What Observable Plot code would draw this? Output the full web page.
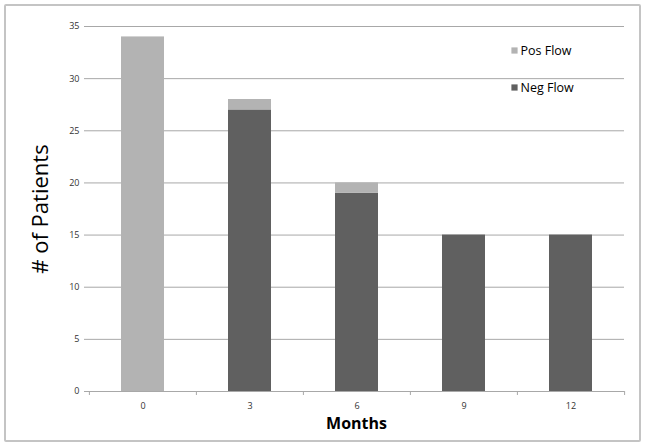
<!DOCTYPE html>
<html>
<head>
<meta charset="utf-8">
<script src="https://cdn.jsdelivr.net/npm/d3@7"></script>
<script src="https://cdn.jsdelivr.net/npm/@observablehq/plot@0.6"></script>
<style>
  body { margin: 0; background: #fff; }
  #wrap { position: relative; width: 645px; height: 447px; }
  #border { position: absolute; left: 4px; top: 4px; width: 633px; height: 434px; border: 2px solid #c4c4c4; border-radius: 2px; pointer-events: none; }
  svg { font-family: "Open Sans", "Liberation Sans", sans-serif; }
</style>
</head>
<body>
<div id="wrap"><div id="border"></div></div>
<script>
const months = ["0", "3", "6", "9", "12"];
const negFlow = [0, 27, 19, 15, 15];
const posFlow = [34, 1, 1, 0, 0];
const series = ["Neg Flow", "Pos Flow"];
const colors = ["#606060", "#b3b3b3"];
const yTicks = [0, 5, 10, 15, 20, 25, 30, 35];

const data = [];
months.forEach((m, i) => {
  data.push({month: m, series: "Neg Flow", value: negFlow[i]});
  data.push({month: m, series: "Pos Flow", value: posFlow[i]});
});

const W = 645, ML = 88, MR = 21;
const step = (W - ML - MR) / months.length;

const chart = Plot.plot({
  width: W,
  height: 447,
  marginLeft: ML,
  marginRight: MR,
  marginTop: 26,
  marginBottom: 56,
  style: {fontSize: "9px", color: "#333"},
  x: {domain: months, paddingInner: 0.6, paddingOuter: 0.3, label: null},
  y: {domain: [0, 35], label: null},
  color: {domain: series, range: colors},
  marks: [
    Plot.gridY(yTicks, {stroke: "#a8a8a8", strokeOpacity: 1, strokeWidth: 1}),
    Plot.barY(data, Plot.stackY({x: "month", y: "value", fill: "series", order: series})),
    Plot.ruleY([0], {stroke: "#a8a8a8"}),
    Plot.axisY({ticks: yTicks, tickSize: 4, stroke: "#a8a8a8", strokeOpacity: 1, label: null, tickPadding: 5, fontSize: 9, fill: "#333"}),
    Plot.ruleX([0], {frameAnchor: "left", stroke: "#a8a8a8"}),
    Plot.axisX({tickSize: 0, label: null, tickPadding: 11, fontSize: 9, fill: "#333"}),
    Plot.axisX(months, {tickSize: 4, text: null, label: null, dx: -step / 2, stroke: "#a8a8a8", strokeOpacity: 1}),
    Plot.axisX(months.slice(-1), {tickSize: 4, text: null, label: null, dx: step / 2, stroke: "#a8a8a8", strokeOpacity: 1}),
    Plot.text(["# of Patients"], {frameAnchor: "left", dx: -48, rotate: -90, textAnchor: "middle", fontSize: 22, fill: "#000", text: d => d}),
    Plot.text(["Months"], {frameAnchor: "bottom", dy: 32, lineAnchor: "middle", fontSize: 16, fontWeight: "bold", fill: "#000", text: d => d}),
    Plot.dot([series[1]], {frameAnchor: "top-right", dx: -110, dy: 24, symbol: "square", r: 3.5, fill: d => d, stroke: null}),
    Plot.text([series[1]], {frameAnchor: "top-right", dx: -104, dy: 24, lineAnchor: "middle", text: d => d, textAnchor: "start", fontSize: 12.5, fill: "#000"}),
    Plot.dot([series[0]], {frameAnchor: "top-right", dx: -110, dy: 61, symbol: "square", r: 3.5, fill: d => d, stroke: null}),
    Plot.text([series[0]], {frameAnchor: "top-right", dx: -104, dy: 61, lineAnchor: "middle", text: d => d, textAnchor: "start", fontSize: 12.5, fill: "#000"})
  ]
});
document.getElementById("wrap").prepend(chart);
</script>
</body>
</html>
